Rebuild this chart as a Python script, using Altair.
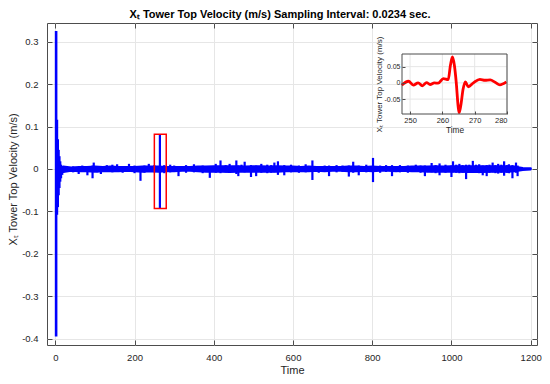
import altair as alt
import pandas as pd

FONT = "Liberation Sans"
BLUE = "#0000ff"
RED = "#ff0000"
AX = "#4d4d4d"
GRID = "#e6e6e6"
TXT = "#262626"

# ---- main axes ----
x_ticks = [0, 200, 400, 600, 800, 1000, 1200]
y_ticks = [-0.4, -0.3, -0.2, -0.1, 0, 0.1, 0.2, 0.3]
x_lim = [-21, 1216]
y_lim = [-0.415, 0.344]

# initial transient (time, low, high) in mm/s
trans_t = [2, 4, 6, 8, 10, 12, 14, 17, 20]
trans_lo = [-395, -108, -90, -62, -45, -30, -22, -14, -8]
trans_hi = [325, 116, 70, 45, 30, 18, 10, 7, 5]

# envelope of the steady oscillation (mm/s)
band_t = [20, 40, 60, 80, 100, 120, 140, 160, 180, 200,
          220, 240, 260, 280, 300, 320, 340, 360, 380, 400,
          420, 440, 460, 480, 500, 520, 540, 560, 580, 600,
          620, 640, 660, 680, 700, 720, 740, 760, 780, 800,
          820, 840, 860, 880, 900, 920, 940, 960, 980, 1000,
          1020, 1040, 1060, 1080, 1100, 1120, 1140, 1160, 1180, 1200]
band_hi = [5, 3, 4, 4, 5, 4, 5, 4, 4, 4,
           5, 5, 5, 4, 4, 4, 4, 5, 5, 6,
           6, 6, 6, 5, 6, 6, 5, 6, 5, 5,
           4, 5, 4, 4, 4, 4, 5, 5, 4, 5,
           4, 4, 4, 4, 5, 5, 5, 6, 5, 6,
           6, 6, 6, 6, 6, 6, 6, 5, 2, 1]
band_lo = [-7, -4, -5, -5, -6, -5, -5, -5, -4, -5,
           -6, -5, -6, -5, -5, -4, -4, -5, -6, -6,
           -6, -7, -6, -6, -6, -6, -6, -6, -5, -5,
           -5, -5, -4, -5, -4, -4, -5, -5, -4, -5,
           -4, -4, -5, -4, -5, -5, -6, -6, -6, -6,
           -6, -7, -6, -7, -6, -6, -6, -5, -2, -1]

# spikes (time, low, high) in mm/s
spike_t = [45, 59, 68, 81, 94, 97, 106, 115, 130, 144, 156, 170, 186, 200, 215, 225, 236, 250,
           264, 275, 290, 300, 311, 330, 350, 372, 390, 405, 417, 430, 440, 457, 462, 470, 478,
           494, 507, 520, 535, 545, 553, 562, 578, 595, 615, 632, 649, 665, 680, 691, 710, 725,
           741, 752, 766, 785, 802, 820, 835, 850, 870, 890, 910, 922, 933, 950, 960, 970, 985,
           1000, 1004, 1012, 1020, 1028, 1037, 1045, 1054, 1062, 1070, 1079, 1089, 1096, 1104,
           1111, 1118, 1126, 1133, 1140, 1145, 1154, 1163, 1167]
spike_lo = [-8, -12, -6, -15, -22, -5, -8, -12, -7, -8, -6, -9, -6, -10, -28, -9, -7, -8,
            -93, -10, -8, -7, -17, -9, -8, -10, -21, -9, -10, -8, -9, -12, -17, -7, -8,
            -19, -17, -9, -10, -9, -8, -14, -15, -8, -9, -8, -26, -9, -7, -17, -8, -7,
            -18, -9, -15, -8, -31, -9, -7, -17, -8, -9, -7, -9, -17, -8, -10, -15, -9,
            -19, -8, -9, -10, -9, -24, -9, -9, -9, -10, -15, -17, -9, -8,
            -10, -11, -9, -16, -9, -10, -22, -9, -17]
spike_hi = [6, 4, 8, 5, 8, 15, 7, 6, 9, 10, 11, 7, 12, 8, 6, 8, 12, 9,
            80, 9, 10, 8, 7, 9, 11, 8, 7, 12, 20, 9, 12, 20, 8, 10, 17,
            9, 8, 12, 10, 9, 15, 18, 9, 10, 8, 11, 20, 7, 8, 8, 9, 8,
            8, 17, 8, 10, 26, 8, 9, 9, 9, 8, 10, 8, 8, 14, 9, 13, 10,
            8, 18, 10, 12, 9, 10, 10, 19, 10, 11, 8, 9, 10, 15,
            9, 12, 10, 18, 9, 11, 9, 15, 8]

# zoom window marked on the main plot
zoom_t = [250, 280]
zoom_v = [-0.093, 0.082]

# ---- inset ----
in_x_ticks = [250, 260, 270, 280]
in_y_ticks = [-0.05, 0, 0.05]
in_x_lim = [247.5, 280]
in_y_lim = [-0.096, 0.089]
in_t = [247.4, 249.5, 251.0, 252.5, 253.8, 255.1, 256.2, 257.5, 258.7, 260.3, 261.8, 262.5,
        263.1, 263.7, 264.3, 264.9, 265.2, 265.7, 266.4, 267.1, 268.0, 269.6, 271.6, 273.2,
        274.8, 276.3, 277.8, 279.8]
in_v = [-7, 5, -7, 0, -9, 1, -5, 0, -1, 13, 10, 55,
        80, 55, 0, -75, -92, -70, -20, 3, -12, 0, 11, 8,
        9, 2, -6, 3]

W, H = 490, 322
IN_XR = [355, 460]
IN_YR = [91, 31]

ylabel = "X\u209c Tower Top Velocity (m/s)"

band_df = pd.DataFrame({"t": band_t, "lo": [v / 1000 for v in band_lo], "hi": [v / 1000 for v in band_hi]})
trans_df = pd.DataFrame({"t": trans_t, "lo": [v / 1000 for v in trans_lo], "hi": [v / 1000 for v in trans_hi]})
spike_df = pd.DataFrame({"t": spike_t, "lo": [v / 1000 for v in spike_lo], "hi": [v / 1000 for v in spike_hi]})
box_df = pd.DataFrame({"t": [zoom_t[0]], "t2": [zoom_t[1]], "lo": [zoom_v[0]], "hi": [zoom_v[1]]})

xs = alt.Scale(domain=x_lim, nice=False, zero=False)
ys = alt.Scale(domain=y_lim, nice=False, zero=False)
x_axis = alt.Axis(values=x_ticks, format="d", title="Time", grid=True, gridColor=GRID,
                  domain=False, tickSize=5, tickColor=AX, offset=-5, labelPadding=7,
                  titlePadding=3)
y_axis = alt.Axis(values=y_ticks, labelExpr="'' + datum.value", title=ylabel, grid=True,
                  gridColor=GRID, domain=False, tickSize=5, tickColor=AX, offset=-5,
                  labelPadding=9, titlePadding=3, titleY=156, titleFontSize=11)

X = alt.X("t:Q", scale=xs, axis=x_axis)
Y = alt.Y("lo:Q", scale=ys, axis=y_axis)

band = alt.Chart(band_df).mark_area(color=BLUE, stroke=BLUE, strokeWidth=2.4, strokeJoin="round").encode(
    x=X, y=Y, y2="hi:Q")
trans = alt.Chart(trans_df).mark_rule(color=BLUE, strokeWidth=2.6).encode(x=X, y=Y, y2="hi:Q")
spikes = alt.Chart(spike_df).mark_rule(color=BLUE, strokeWidth=2.2).encode(x=X, y=Y, y2="hi:Q")
box = alt.Chart(box_df).mark_rect(fillOpacity=0, stroke=RED, strokeWidth=1.5).encode(
    x=X, x2="t2:Q", y=Y, y2="hi:Q")
main = alt.layer(band, trans, spikes, box)

# inset
xs_in = alt.Scale(domain=in_x_lim, range=IN_XR, nice=False, zero=False)
ys_in = alt.Scale(domain=in_y_lim, range=IN_YR, nice=False, zero=False)
x_axis_in = alt.Axis(values=in_x_ticks, format="d", title="Time", orient="bottom", grid=False,
                     domain=False, offset=-(H - IN_YR[0]) - 3, tickSize=3, tickColor=AX,
                     labelPadding=2, titlePadding=2, labelFontSize=7.5, titleFontSize=8.3, zindex=1)
y_axis_in = alt.Axis(values=in_y_ticks, labelExpr="'' + datum.value", title=ylabel, orient="left",
                     grid=False, domain=False, offset=-IN_XR[0] - 3, tickSize=3, tickColor=AX,
                     labelPadding=2, titlePadding=1, labelFontSize=7, titleFontSize=8,
                     titleLimit=1000, zindex=1)
XI = alt.X("t:Q", scale=xs_in, axis=x_axis_in)
YI = alt.Y("v:Q", scale=ys_in, axis=y_axis_in)

in_bg_df = pd.DataFrame({"t": [in_x_lim[0]], "t2": [in_x_lim[1]], "v": [in_y_lim[0]], "v2": [in_y_lim[1]]})
in_gx_df = pd.DataFrame({"t": in_x_ticks, "v": [in_y_lim[0]] * len(in_x_ticks), "v2": [in_y_lim[1]] * len(in_x_ticks)})
in_gy_df = pd.DataFrame({"v": in_y_ticks, "t": [in_x_lim[0]] * len(in_y_ticks), "t2": [in_x_lim[1]] * len(in_y_ticks)})
in_df = pd.DataFrame({"t": in_t, "v": [v / 1000 for v in in_v]})

in_bg = alt.Chart(in_bg_df).mark_rect(fill="white", strokeWidth=0).encode(x=XI, x2="t2:Q", y=YI, y2="v2:Q")
in_gx = alt.Chart(in_gx_df).mark_rule(color=GRID, strokeWidth=1).encode(x=XI, y=YI, y2="v2:Q")
in_gy = alt.Chart(in_gy_df).mark_rule(color=GRID, strokeWidth=1).encode(y=YI, x=XI, x2="t2:Q")
in_line = alt.Chart(in_df).mark_line(color=RED, strokeWidth=2.8, interpolate="monotone").encode(x=XI, y=YI)
in_frame = alt.Chart(in_bg_df).mark_rect(fillOpacity=0, stroke=AX, strokeWidth=1).encode(
    x=XI, x2="t2:Q", y=YI, y2="v2:Q")
inset = alt.layer(in_bg, in_gx, in_gy, in_line, in_frame)

# top / right inward ticks of the main box
tk_df = pd.DataFrame({"t": x_lim, "lo": y_lim})
ticks_tr = alt.Chart(tk_df).mark_point(opacity=0).encode(
    x=alt.X("t:Q", scale=alt.Scale(domain=x_lim, nice=False, zero=False),
            axis=alt.Axis(orient="top", values=x_ticks, labels=False, title="", grid=False,
                          domain=False, tickSize=5, tickColor=AX, offset=-5)),
    y=alt.Y("lo:Q", scale=alt.Scale(domain=y_lim, nice=False, zero=False),
            axis=alt.Axis(orient="right", values=y_ticks, labels=False, title="", grid=False,
                          domain=False, tickSize=5, tickColor=AX, offset=-5)),
)

chart = alt.layer(main, inset, ticks_tr).resolve_scale(x="independent", y="independent").properties(
    width=W, height=H, autosize="none",
    padding={"left": 39, "top": 15, "right": 5, "bottom": 31},
    title=alt.TitleParams("X\u209c Tower Top Velocity (m/s) Sampling Interval: 0.0234 sec.",
                          fontSize=11, fontWeight="bold", font=FONT, color="#000000",
                          anchor="middle", frame="group", dx=-12, offset=0),
).configure_view(stroke=AX, strokeWidth=1).configure_axis(
    labelFont=FONT, titleFont=FONT, labelColor=TXT, titleColor=TXT,
    labelFontSize=9.5, titleFontSize=11, titleFontWeight="normal")

chart.save("out.html", embed_options={"renderer": "svg", "actions": False})
